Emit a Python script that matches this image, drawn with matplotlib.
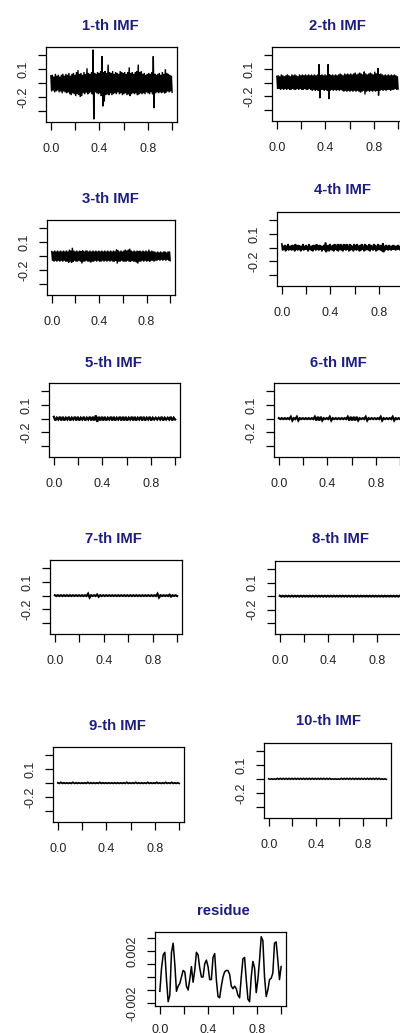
import numpy as np
import matplotlib
matplotlib.use("Agg")
import matplotlib.pyplot as plt

plt.rcParams['font.family'] = ['Liberation Sans', 'DejaVu Sans']

# ---------------- data ----------------
titles = ['1-th IMF', '2-th IMF', '3-th IMF', '4-th IMF', '5-th IMF',
          '6-th IMF', '7-th IMF', '8-th IMF', '9-th IMF', '10-th IMF']
imf_level = -0.05

# upper / lower extremes of each IMF (offset from the level)
imf1_hi = [0.08, 0.09, 0.07, 0.10, 0.08, 0.09, 0.07, 0.09, 0.10, 0.08,
           0.10, 0.09, 0.11, 0.08, 0.10, 0.11, 0.09, 0.12, 0.14, 0.10,
           0.11, 0.09, 0.12, 0.10, 0.16, 0.11, 0.10, 0.12, 0.36, 0.11,
           0.10, 0.12, 0.11, 0.13, 0.29, 0.12, 0.13, 0.11, 0.20, 0.12,
           0.11, 0.13, 0.10, 0.12, 0.11, 0.10, 0.13, 0.12, 0.11, 0.12,
           0.10, 0.12, 0.17, 0.11, 0.12, 0.10, 0.12, 0.13, 0.20, 0.12,
           0.13, 0.10, 0.11, 0.09, 0.10, 0.11, 0.10, 0.12, 0.29, 0.10,
           0.09, 0.10, 0.11, 0.09, 0.12, 0.10, 0.15, 0.11, 0.10, 0.09, 0.08]
imf1_lo = [0.09, 0.08, 0.10, 0.09, 0.08, 0.10, 0.09, 0.11, 0.09, 0.10,
           0.11, 0.10, 0.12, 0.13, 0.11, 0.12, 0.14, 0.12, 0.13, 0.15,
           0.14, 0.11, 0.12, 0.10, 0.12, 0.11, 0.10, 0.12, 0.39, 0.10,
           0.11, 0.12, 0.11, 0.14, 0.25, 0.20, 0.13, 0.12, 0.13, 0.11,
           0.13, 0.12, 0.11, 0.12, 0.10, 0.12, 0.11, 0.13, 0.12, 0.11,
           0.13, 0.12, 0.14, 0.12, 0.11, 0.12, 0.11, 0.13, 0.12, 0.11,
           0.12, 0.11, 0.12, 0.10, 0.11, 0.12, 0.10, 0.12, 0.27, 0.11,
           0.10, 0.11, 0.10, 0.11, 0.10, 0.11, 0.10, 0.09, 0.10, 0.09, 0.10]

imf2_hi = [0.07, 0.08, 0.07, 0.09, 0.08, 0.07, 0.08, 0.09, 0.08, 0.07,
           0.09, 0.08, 0.09, 0.08, 0.07, 0.09, 0.08, 0.09, 0.08, 0.09,
           0.08, 0.09, 0.08, 0.09, 0.08, 0.09, 0.08, 0.09, 0.20, 0.08,
           0.09, 0.08, 0.09, 0.08, 0.20, 0.09, 0.08, 0.09, 0.08, 0.09,
           0.08, 0.09, 0.10, 0.09, 0.08, 0.10, 0.09, 0.10, 0.09, 0.10,
           0.09, 0.10, 0.11, 0.09, 0.10, 0.11, 0.10, 0.09, 0.12, 0.10,
           0.09, 0.10, 0.11, 0.10, 0.09, 0.12, 0.10, 0.16, 0.09, 0.10,
           0.09, 0.08, 0.09, 0.08, 0.09, 0.08, 0.09, 0.08, 0.09, 0.08, 0.07]
imf2_lo = [0.07, 0.07, 0.08, 0.07, 0.08, 0.07, 0.08, 0.07, 0.08, 0.08,
           0.07, 0.08, 0.08, 0.07, 0.08, 0.07, 0.08, 0.08, 0.07, 0.08,
           0.08, 0.07, 0.08, 0.09, 0.08, 0.09, 0.08, 0.09, 0.17, 0.08,
           0.08, 0.09, 0.08, 0.09, 0.18, 0.09, 0.08, 0.09, 0.08, 0.09,
           0.08, 0.09, 0.08, 0.09, 0.10, 0.09, 0.10, 0.09, 0.10, 0.09,
           0.10, 0.09, 0.10, 0.09, 0.10, 0.11, 0.10, 0.09, 0.13, 0.10,
           0.09, 0.10, 0.09, 0.10, 0.09, 0.10, 0.09, 0.14, 0.09, 0.08,
           0.09, 0.08, 0.09, 0.08, 0.08, 0.09, 0.08, 0.08, 0.07, 0.08, 0.07]

imf3_hi = [0.05, 0.05, 0.06, 0.05, 0.06, 0.05, 0.06, 0.05, 0.06, 0.05,
           0.06, 0.05, 0.07, 0.06, 0.09, 0.06, 0.05, 0.06, 0.05, 0.06,
           0.05, 0.06, 0.05, 0.06, 0.06, 0.05, 0.06, 0.05, 0.06, 0.05,
           0.06, 0.05, 0.06, 0.05, 0.06, 0.05, 0.06, 0.05, 0.06, 0.05,
           0.06, 0.05, 0.06, 0.05, 0.07, 0.06, 0.05, 0.06, 0.05, 0.06,
           0.07, 0.06, 0.07, 0.08, 0.06, 0.05, 0.06, 0.05, 0.06, 0.05,
           0.06, 0.05, 0.06, 0.05, 0.06, 0.05, 0.07, 0.05, 0.06, 0.05,
           0.05, 0.04, 0.05, 0.04, 0.05, 0.04, 0.05, 0.05, 0.04, 0.05, 0.05]
imf3_lo = [0.05, 0.06, 0.05, 0.06, 0.05, 0.06, 0.05, 0.06, 0.05, 0.06,
           0.06, 0.07, 0.06, 0.07, 0.06, 0.05, 0.06, 0.06, 0.05, 0.06,
           0.08, 0.06, 0.06, 0.05, 0.06, 0.06, 0.07, 0.06, 0.06, 0.05,
           0.06, 0.05, 0.06, 0.06, 0.05, 0.06, 0.05, 0.06, 0.05, 0.06,
           0.05, 0.06, 0.06, 0.05, 0.08, 0.06, 0.06, 0.05, 0.06, 0.06,
           0.06, 0.05, 0.06, 0.06, 0.05, 0.06, 0.06, 0.07, 0.08, 0.06,
           0.06, 0.05, 0.06, 0.05, 0.06, 0.05, 0.06, 0.05, 0.05, 0.06,
           0.05, 0.05, 0.04, 0.05, 0.04, 0.05, 0.04, 0.05, 0.04, 0.05, 0.05]

imf4_hi = [0.04, 0.02, 0.03, 0.02, 0.04, 0.02, 0.02, 0.03, 0.02, 0.04,
           0.02, 0.03, 0.02, 0.02, 0.04, 0.02, 0.03, 0.02, 0.04, 0.02,
           0.02, 0.03, 0.02, 0.04, 0.02, 0.03, 0.02, 0.02, 0.03, 0.055,
           0.02, 0.03, 0.04, 0.02, 0.03, 0.04, 0.02, 0.04, 0.03, 0.04,
           0.02, 0.04, 0.03, 0.04, 0.02, 0.04, 0.03, 0.02, 0.04, 0.03,
           0.04, 0.02, 0.03, 0.04, 0.02, 0.04, 0.03, 0.02, 0.04, 0.03,
           0.02, 0.04, 0.03, 0.02, 0.04, 0.02, 0.03, 0.05, 0.02, 0.03,
           0.02, 0.03, 0.02, 0.02, 0.03, 0.02, 0.02, 0.03, 0.02, 0.02, 0.03]
imf4_lo = [0.03, 0.02, 0.04, 0.02, 0.03, 0.02, 0.03, 0.02, 0.04, 0.02,
           0.03, 0.02, 0.04, 0.02, 0.03, 0.02, 0.02, 0.04, 0.02, 0.03,
           0.04, 0.02, 0.03, 0.02, 0.03, 0.02, 0.04, 0.02, 0.03, 0.05,
           0.03, 0.04, 0.02, 0.03, 0.04, 0.02, 0.03, 0.04, 0.02, 0.03,
           0.04, 0.02, 0.03, 0.02, 0.04, 0.03, 0.02, 0.04, 0.02, 0.03,
           0.02, 0.04, 0.03, 0.02, 0.04, 0.03, 0.02, 0.03, 0.04, 0.02,
           0.03, 0.02, 0.04, 0.03, 0.02, 0.03, 0.04, 0.05, 0.03, 0.02,
           0.03, 0.02, 0.03, 0.02, 0.02, 0.03, 0.02, 0.02, 0.03, 0.02, 0.02]

imf5_hi = [0.02, 0.01, 0.02, 0.02, 0.01, 0.02, 0.01, 0.02, 0.02, 0.01, 0.02, 0.01, 0.02, 0.02,
           0.035, 0.02, 0.02, 0.02, 0.01, 0.02, 0.02, 0.01, 0.02, 0.02, 0.02, 0.01, 0.02, 0.02,
           0.01, 0.02, 0.02, 0.01, 0.02, 0.01, 0.01, 0.01, 0.02, 0.01, 0.01, 0.02, 0.01]
imf5_lo = imf5_hi

imf6_hi = [0.005, 0.005, 0.005, 0.005, 0.02, 0.005, 0.02, 0.005, 0.005, 0.005, 0.005, 0.005,
           0.02, 0.02, 0.02, 0.005, 0.005, 0.02, 0.005, 0.005, 0.005, 0.005, 0.005, 0.02, 0.02,
           0.02, 0.02, 0.005, 0.005, 0.02, 0.005, 0.005, 0.005, 0.005, 0.02, 0.005, 0.005,
           0.005, 0.02, 0.005, 0.005]
imf6_lo = imf6_hi

imf7_hi = [0.004, 0.004, 0.004, 0.004, 0.004, 0.004, 0.004, 0.004, 0.004, 0.004, 0.004, 0.02,
           0.004, 0.004, 0.012, 0.004, 0.004, 0.004, 0.004, 0.004, 0.004, 0.004, 0.004, 0.004,
           0.004, 0.004, 0.004, 0.004, 0.004, 0.004, 0.004, 0.004, 0.004, 0.004, 0.02, 0.004,
           0.004, 0.004, 0.01, 0.004, 0.004]
imf7_lo = imf7_hi

imf8_hi = [0.004] * 41
imf8_lo = imf8_hi

imf9_hi = [0.003, 0.008, 0.003, 0.003, 0.003, 0.008, 0.003, 0.003, 0.003, 0.003, 0.008, 0.003,
           0.003, 0.003, 0.008, 0.003, 0.003, 0.003, 0.003, 0.003, 0.003, 0.003, 0.003, 0.008,
           0.003, 0.003, 0.008, 0.003, 0.003, 0.003, 0.008, 0.003, 0.003, 0.008, 0.003, 0.003,
           0.008, 0.003, 0.008, 0.003, 0.003]
imf9_lo = [0.003] * 41

imf10_hi = [0.003, 0.003, 0.003, 0.008, 0.008, 0.008, 0.008, 0.008, 0.008, 0.008, 0.008, 0.008,
            0.008, 0.008, 0.008, 0.008, 0.008, 0.008, 0.008, 0.008, 0.008, 0.008, 0.003, 0.003,
            0.003, 0.008, 0.008, 0.008, 0.008, 0.008, 0.008, 0.008, 0.008, 0.008, 0.008, 0.008,
            0.008, 0.008, 0.008, 0.003, 0.003]
imf10_lo = [0.002] * 41

imf_hi = [imf1_hi, imf2_hi, imf3_hi, imf4_hi, imf5_hi, imf6_hi, imf7_hi, imf8_hi, imf9_hi, imf10_hi]
imf_lo = [imf1_lo, imf2_lo, imf3_lo, imf4_lo, imf5_lo, imf6_lo, imf7_lo, imf8_lo, imf9_lo, imf10_lo]
imf_lw = [1.0, 1.0, 1.0, 1.2, 1.6, 1.6, 1.6, 1.6, 1.3, 1.2]

residue = [-1.1, 0.66, 1.7, 1.9, -0.2, -1.9, -1.4, 1.9, 2.6, 1.0, -1.1, -0.7, -0.5, 0.0, 0.5,
           0.4, -0.7, -1.0, -0.2, 0.8, -0.4, 0.5, 1.9, 1.7, 0.7, 0.0, 0.0, 1.0, 1.3, 0.8, -0.2,
           -0.2, 1.5, 1.8, -0.2, -1.5, -1.6, -0.7, 0.0, 0.4, 0.5, 0.5, 0.2, -0.7, -0.9, -0.7,
           -0.9, -1.4, -1.6, 0.0, 1.4, 1.5, -0.2, -1.7, -1.9, 0.0, 1.2, 0.7, -1.2, -0.2, 1.3,
           3.1, 2.8, 0.0, -1.5, -1.0, -0.2, -0.1, 0.3, 2.6, 2.7, 1.3, -0.2, 0.8]  # x 1e-3

imf_yticks = [0.25, 0.1, -0.05, -0.2, -0.35]
imf_yticklabels = ['', '0.1', '', '-0.2', '']
res_yticks = [-0.002, -0.001, 0.0, 0.001, 0.002, 0.003]
res_yticklabels = ['-0.002', '', '', '', '0.002', '']
xticks = [0.0, 0.2, 0.4, 0.6, 0.8, 1.0]
xticklabels = ['0.0', '', '0.4', '', '0.8', '']

# ---------------- layout (pixels) ----------------
W, H = 400, 1033
fig = plt.figure(figsize=(W / 100, H / 100), dpi=100)

boxes = [(46, 47, 177, 122), (272, 47, 403, 121),
         (47, 220, 175, 295), (277, 212, 408, 286),
         (49, 383, 180, 457), (274, 383, 405, 457),
         (50, 560, 182, 634), (275, 561, 406, 634),
         (53, 747, 184, 822), (264, 743, 391, 818)]
title_pos = [(110, 25), (337, 25), (110, 198), (342, 189), (113, 362),
             (338, 362), (113, 538), (340, 538), (117, 725), (328, 720)]
res_box = (155, 932, 286, 1006)
res_title = (223, 910)

TITLE_COLOR = '#1d1d7d'
TEXT_COLOR = '#222222'


def make_ax(box):
    l, t, r, b = box
    return fig.add_axes([l / W, 1 - b / H, (r - l) / W, (b - t) / H])


def style(ax, yticks, yticklabels, xpad=9.5):
    ax.set_xlim(-0.04, 1.04)
    ax.set_xticks(xticks)
    ax.set_xticklabels(xticklabels)
    ax.set_yticks(yticks)
    ax.set_yticklabels(yticklabels)
    ax.tick_params(direction='out', length=5.5, width=0.9, labelsize=9,
                   labelcolor=TEXT_COLOR, color='black')
    ax.tick_params(axis='x', pad=xpad)
    ax.tick_params(axis='y', pad=6.5)
    for lab in ax.get_yticklabels():
        lab.set_rotation(90)
        lab.set_va('center')
    for sp in ax.spines.values():
        sp.set_linewidth(0.9)
        sp.set_color('black')


def title(pos, text):
    cx, cy = pos
    fig.text(cx / W, 1 - (cy + 5) / H, text, ha='center', va='baseline',
             fontsize=10.7, fontweight='bold', color=TITLE_COLOR)


for i in range(10):
    ax = make_ax(boxes[i])
    hi = np.array(imf_hi[i])
    lo = np.array(imf_lo[i])
    y = np.empty(2 * len(hi))
    y[0::2] = imf_level + hi
    y[1::2] = imf_level - lo
    x = np.linspace(0, 1, len(y))
    ax.plot(x, y, color='black', lw=imf_lw[i], solid_joinstyle='miter')
    ax.set_ylim(-0.47, 0.34)
    style(ax, imf_yticks, imf_yticklabels)
    title(title_pos[i], titles[i])

ax = make_ax(res_box)
rv = np.array(residue) * 1e-3
rx = np.linspace(0, 1, len(rv))
ax.plot(rx, rv, color='black', lw=1.1)
ax.set_ylim(-0.00223, 0.00346)
style(ax, res_yticks, res_yticklabels, xpad=7.5)
title(res_title, 'residue')

fig.savefig('out.png', dpi=100)
